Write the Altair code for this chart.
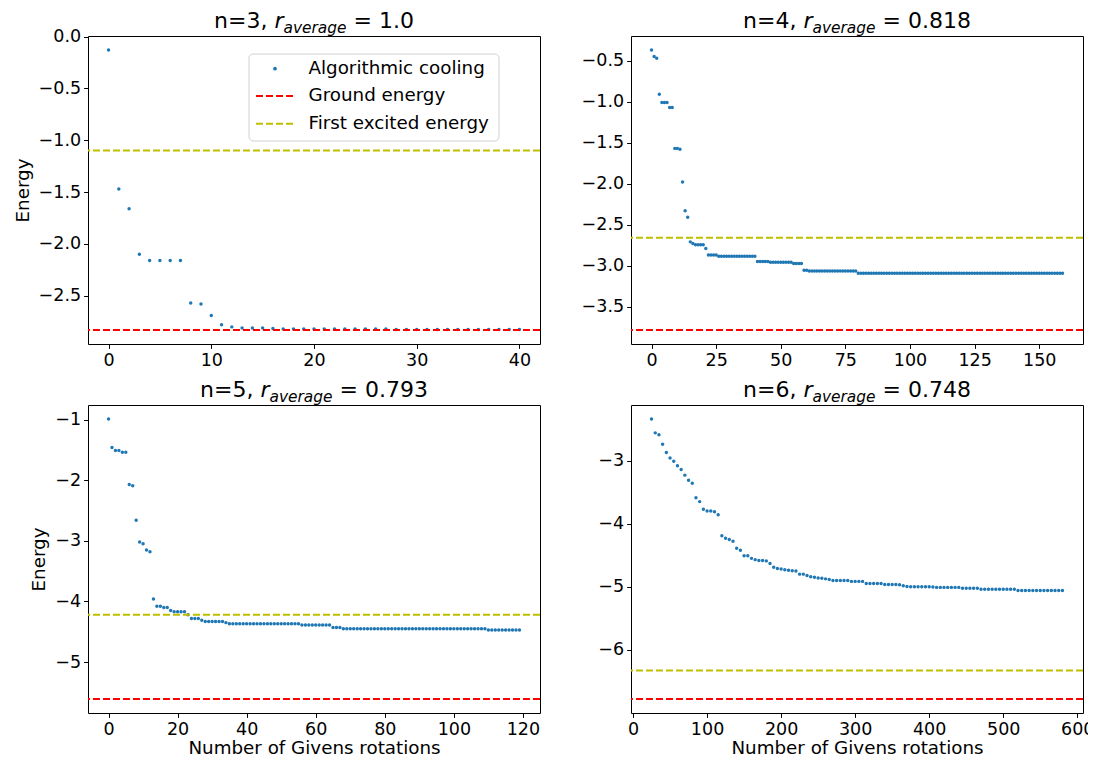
import altair as alt
import pandas as pd

# ---------------- data ----------------
steps_n3 = list(range(0, 41))
energy_n3 = [
    -0.13, -1.47, -1.66, -2.10, -2.16, -2.16, -2.16, -2.16, -2.57, -2.58,
    -2.69, -2.78, -2.80, -2.81, -2.81, -2.81, -2.815, -2.82, -2.82, -2.82,
    -2.82, -2.82, -2.82, -2.82, -2.82, -2.82, -2.82, -2.82, -2.825, -2.825,
    -2.825, -2.825, -2.825, -2.825, -2.825, -2.825, -2.825, -2.825, -2.825, -2.825,
    -2.825,
]
ground_n3 = -2.83
excited_n3 = -1.10

steps_n4 = list(range(0, 160))
energy_n4 = [
    -0.37, -0.45, -0.47, -0.91, -1.01, -1.01, -1.01, -1.07, -1.07, -1.57,
    -1.57, -1.58, -1.98, -2.33, -2.41, -2.71, -2.73, -2.745, -2.745, -2.745,
    -2.745, -2.79, -2.87, -2.87, -2.87, -2.87, -2.885, -2.885, -2.885, -2.885,
    -2.885, -2.885, -2.885, -2.885, -2.885, -2.885, -2.885, -2.885, -2.885, -2.885,
    -2.885, -2.95, -2.95, -2.95, -2.95, -2.95, -2.96, -2.96, -2.96, -2.96,
    -2.96, -2.96, -2.96, -2.96, -2.96, -2.975, -2.975, -2.975, -2.975, -3.055,
    -3.055, -3.066, -3.066, -3.066, -3.066, -3.066, -3.066, -3.066, -3.066, -3.066,
    -3.066, -3.066, -3.066, -3.066, -3.066, -3.066, -3.066, -3.066, -3.066, -3.066,
    -3.094, -3.094, -3.094, -3.094, -3.094, -3.094, -3.094, -3.094, -3.094, -3.094,
    -3.094, -3.094, -3.094, -3.094, -3.094, -3.094, -3.094, -3.094, -3.094, -3.094,
    -3.094, -3.094, -3.094, -3.094, -3.094, -3.094, -3.094, -3.094, -3.094, -3.094,
    -3.094, -3.094, -3.094, -3.094, -3.094, -3.094, -3.094, -3.094, -3.094, -3.094,
    -3.094, -3.094, -3.094, -3.094, -3.094, -3.094, -3.094, -3.094, -3.094, -3.094,
    -3.094, -3.094, -3.094, -3.094, -3.094, -3.094, -3.094, -3.094, -3.094, -3.094,
    -3.094, -3.094, -3.094, -3.094, -3.094, -3.094, -3.094, -3.094, -3.094, -3.094,
    -3.094, -3.094, -3.094, -3.094, -3.094, -3.094, -3.094, -3.094, -3.094, -3.094,
]
ground_n4 = -3.785
excited_n4 = -2.66

steps_n5 = list(range(0, 120))
energy_n5 = [
    -0.99, -1.46, -1.51, -1.51, -1.54, -1.54, -2.07, -2.09, -2.66, -3.02,
    -3.05, -3.15, -3.18, -3.96, -4.08, -4.08, -4.10, -4.10, -4.15, -4.17,
    -4.17, -4.17, -4.17, -4.22, -4.28, -4.28, -4.28, -4.31, -4.33, -4.33,
    -4.33, -4.33, -4.33, -4.33, -4.35, -4.37, -4.37, -4.37, -4.37, -4.37,
    -4.37, -4.37, -4.37, -4.37, -4.37, -4.37, -4.37, -4.37, -4.37, -4.37,
    -4.37, -4.37, -4.37, -4.37, -4.37, -4.37, -4.39, -4.39, -4.39, -4.39,
    -4.39, -4.39, -4.39, -4.39, -4.39, -4.43, -4.43, -4.43, -4.45, -4.45,
    -4.45, -4.45, -4.45, -4.45, -4.45, -4.45, -4.45, -4.45, -4.45, -4.45,
    -4.45, -4.45, -4.45, -4.45, -4.45, -4.45, -4.45, -4.45, -4.45, -4.45,
    -4.45, -4.45, -4.45, -4.45, -4.45, -4.45, -4.45, -4.45, -4.45, -4.45,
    -4.45, -4.45, -4.45, -4.45, -4.45, -4.45, -4.45, -4.45, -4.45, -4.45,
    -4.47, -4.47, -4.47, -4.47, -4.47, -4.47, -4.47, -4.47, -4.47, -4.47,
]
ground_n5 = -5.61
excited_n5 = -4.22

steps_n6 = list(range(25, 581, 5))
energy_n6 = [
    -2.34, -2.56, -2.59, -2.74, -2.87, -2.96, -3.01, -3.08, -3.14, -3.23,
    -3.31, -3.36, -3.59, -3.65, -3.77, -3.80, -3.80, -3.81, -3.86, -4.19,
    -4.23, -4.25, -4.28, -4.39, -4.42, -4.51, -4.51, -4.55, -4.57, -4.585,
    -4.585, -4.59, -4.63, -4.69, -4.71, -4.72, -4.73, -4.74, -4.745, -4.75,
    -4.80, -4.80, -4.82, -4.84, -4.85, -4.86, -4.865, -4.875, -4.885, -4.90,
    -4.90, -4.90, -4.90, -4.90, -4.915, -4.915, -4.915, -4.915, -4.95, -4.95,
    -4.95, -4.95, -4.95, -4.965, -4.965, -4.965, -4.965, -4.97, -4.985, -4.995,
    -5.00, -5.00, -5.00, -5.00, -5.00, -5.00, -5.005, -5.01, -5.01, -5.01,
    -5.01, -5.01, -5.01, -5.01, -5.023, -5.023, -5.023, -5.023, -5.023, -5.04,
    -5.04, -5.04, -5.04, -5.04, -5.04, -5.04, -5.04, -5.04, -5.04, -5.06,
    -5.06, -5.06, -5.06, -5.06, -5.06, -5.06, -5.06, -5.06, -5.06, -5.06,
    -5.06, -5.06,
]
ground_n6 = -6.78
excited_n6 = -6.33

qubits = [3, 4, 5, 6]
r_average = ["1.0", "0.818", "0.793", "0.748"]

xticks = [[0, 10, 20, 30, 40], [0, 25, 50, 75, 100, 125, 150],
          [0, 20, 40, 60, 80, 100, 120], [0, 100, 200, 300, 400, 500, 600]]
yticks = [[0.0, -0.5, -1.0, -1.5, -2.0, -2.5],
          [-0.5, -1.0, -1.5, -2.0, -2.5, -3.0, -3.5],
          [-1, -2, -3, -4, -5],
          [-3, -4, -5, -6]]
yformats = [".1f", ".1f", "d", "d"]

series_labels = ["Algorithmic cooling", "Ground energy", "First excited energy"]
x_label = "Number of Givens rotations"
y_label = "Energy"

# ---------------- style ----------------
FONT = "DejaVu Sans"
BLUE = "#1f77b4"
RED = "#ff0000"
YEL = "#bfbf00"
W, H = 452, 308
TICK_FS = 17.5
LAB_FS = 18.3
TITLE_FS = 22
SUB_SCALE = 0.7

ADV = {"n": 0.634, "=": 0.838, ",": 0.318, " ": 0.318, ".": 0.318,
       "r": 0.411, "a": 0.613, "v": 0.592, "e": 0.615, "g": 0.635}
for d in "0123456789":
    ADV[d] = 0.636


def text_w(s, fs):
    return sum(ADV.get(c, 0.6) for c in s) * fs


def title_layers(n, r):
    p1 = f"n={n},"
    p2 = "r"
    p3 = "average"
    p4 = f"= {r}"
    sp = ADV[" "] * TITLE_FS
    w1 = text_w(p1, TITLE_FS) + sp
    w2 = text_w(p2, TITLE_FS)
    w3 = text_w(p3, TITLE_FS * SUB_SCALE)
    w4 = sp + text_w(p4, TITLE_FS)
    total = w1 + w2 + w3 + w4
    x0 = W / 2 - total / 2
    base = alt.Chart(pd.DataFrame({"k": [0]}))
    y_base = -8
    parts = [
        (p1, x0, y_base, TITLE_FS, "normal"),
        (p2, x0 + w1, y_base, TITLE_FS, "italic"),
        (p3, x0 + w1 + w2, y_base + 4.5, TITLE_FS * SUB_SCALE, "italic"),
        (p4, x0 + w1 + w2 + w3 + sp, y_base, TITLE_FS, "normal"),
    ]
    out = []
    for txt, x, y, fs, style in parts:
        out.append(
            base.mark_text(align="left", baseline="alphabetic", fontSize=fs,
                           font=FONT, fontStyle=style, color="black")
            .encode(x=alt.value(x), y=alt.value(y), text=alt.value(txt))
        )
    return out


def legend_layers():
    base = alt.Chart(pd.DataFrame({"k": [0]}))
    box = base.mark_rect(fill="white", fillOpacity=0.8, stroke="#d0d0d0",
                         strokeWidth=1, cornerRadius=4).encode(
        x=alt.value(161), x2=alt.value(411), y=alt.value(18), y2=alt.value(105))
    rows = [32.7, 60.0, 87.7]
    dot = base.mark_circle(size=14, color=BLUE, opacity=1).encode(
        x=alt.value(187), y=alt.value(rows[0]))
    l1 = base.mark_rule(color=RED, strokeDash=[7, 3], strokeWidth=2).encode(
        x=alt.value(168), x2=alt.value(205), y=alt.value(rows[1]))
    l2 = base.mark_rule(color=YEL, strokeDash=[7, 3], strokeWidth=2).encode(
        x=alt.value(168), x2=alt.value(205), y=alt.value(rows[2]))
    texts = [
        base.mark_text(align="left", baseline="middle", fontSize=LAB_FS,
                       font=FONT, color="black").encode(
            x=alt.value(220.5), y=alt.value(yy), text=alt.value(lbl))
        for lbl, yy in zip(series_labels, rows)
    ]
    return [box, dot, l1, l2] + texts


def panel(i, xs, es, ground, excited, show_ylabel, show_xlabel, legend):
    lo = min(min(es), ground, excited)
    hi = max(max(es), ground, excited)
    span = hi - lo
    ydom = [lo - 0.05 * span, hi + 0.05 * span]
    xspan = max(xs) - min(xs)
    xdom = [min(xs) - 0.05 * xspan, max(xs) + 0.05 * xspan]

    x_axis = alt.Axis(values=xticks[i], format="d", titlePadding=2,
                      title=x_label if show_xlabel else None)
    y_axis = alt.Axis(values=yticks[i], format=yformats[i],
                      title=y_label if show_ylabel else None)
    xenc = alt.X("x:Q", scale=alt.Scale(domain=xdom, nice=False, zero=False), axis=x_axis)
    yenc = alt.Y("e:Q", scale=alt.Scale(domain=ydom, nice=False, zero=False), axis=y_axis)

    df = pd.DataFrame({"x": xs, "e": es})
    pts = alt.Chart(df).mark_circle(size=12, color=BLUE, opacity=1).encode(x=xenc, y=yenc)

    lines_df = pd.DataFrame({"e": [ground, excited], "kind": series_labels[1:]})
    rules = alt.Chart(lines_df).mark_rule(strokeDash=[7, 3], strokeWidth=2).encode(
        y=yenc,
        color=alt.Color("kind:N", scale=alt.Scale(domain=series_labels[1:], range=[RED, YEL]),
                        legend=None),
    )
    layers = [pts, rules]
    if legend:
        layers += legend_layers()
    layers += title_layers(qubits[i], r_average[i])
    return alt.layer(*layers).properties(width=W, height=H)


p1 = panel(0, steps_n3, energy_n3, ground_n3, excited_n3, True, False, True)
p2 = panel(1, steps_n4, energy_n4, ground_n4, excited_n4, False, False, False)
p3 = panel(2, steps_n5, energy_n5, ground_n5, excited_n5, True, True, False)
p4 = panel(3, steps_n6, energy_n6, ground_n6, excited_n6, False, True, False)

chart = (
    alt.concat(p1, p2, p3, p4, columns=2, spacing={"row": 8, "column": 38})
    .properties(padding={"left": 4, "top": 1, "right": -7, "bottom": 0})
    .configure_view(stroke="black", strokeWidth=1)
    .configure_axis(
        domain=False, grid=False, ticks=True, tickColor="black", tickSize=4.4,
        tickWidth=1, labelColor="black", labelFont=FONT, labelFontSize=TICK_FS,
        labelPadding=3, labelFlush=False, labelOverlap=False,
        titleColor="black", titleFont=FONT, titleFontSize=LAB_FS,
        titleFontWeight="normal", titlePadding=6,
    )
)

chart.save("out.html", embed_options={"renderer": "svg", "actions": False})
